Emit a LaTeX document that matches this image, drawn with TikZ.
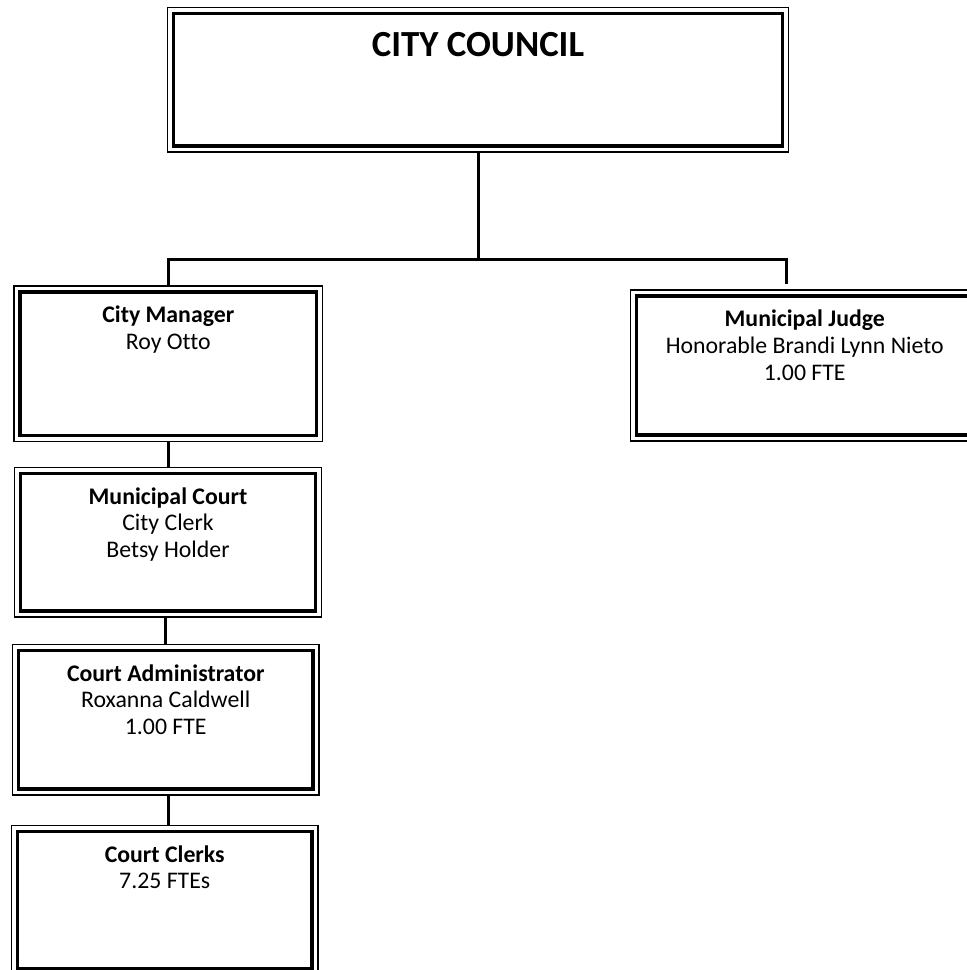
\documentclass[tikz,border=0pt]{standalone}
\usepackage{fontspec}
\setmainfont[Ligatures=NoCommon]{Carlito}
\usetikzlibrary{calc}

\newcommand{\boxfont}{\fontsize{23.8}{26.7}\selectfont}
\newcommand{\titlefont}{\fontsize{36.8}{40}\selectfont\bfseries}
\newcommand{\firstline}{\rule{0pt}{17pt}}

\tikzset{
  % thin outer rule with a heavy rule set just inside it
  orgbox/.style={
    draw, line width=1.4pt, fill=white, inner sep=0pt, outer sep=0pt,
    path picture={
      \draw[line width=3.5pt]
        ([xshift=6pt,yshift=-6pt]path picture bounding box.north west)
        rectangle
        ([xshift=-6pt,yshift=6pt]path picture bounding box.south east);
    }
  },
  boxtext/.style={anchor=north, inner sep=0pt, align=center, font=\boxfont, yshift=-19.5pt},
  conn/.style={line width=3pt, line join=miter}
}

\begin{document}
\begin{tikzpicture}[x=1pt,y=-1pt]
  \useasboundingbox (0,0) rectangle (967,970);
  \clip (0,0) rectangle (967,970);
  \fill[white] (0,0) rectangle (967,970);

  % boxes
  \node[orgbox, minimum width=621pt, minimum height=144.5pt,
        label={[anchor=north, inner sep=0pt, font=\titlefont, yshift=-18.5pt]north:{\rule{0pt}{30pt}CITY COUNCIL}}]
        (council) at (478,79.75) {};

  \node[orgbox, minimum width=308.5pt, minimum height=155.5pt,
        label={[boxtext]north:{\firstline\textbf{City Manager}\\Roy Otto}}]
        (mgr) at (168.25,363.75) {};

  \node[orgbox, minimum width=348.5pt, minimum height=151pt,
        label={[boxtext]north:{\firstline\textbf{Municipal Judge}\\Honorable Brandi Lynn Nieto\\1.00 FTE}}]
        (judge) at (804.75,365.5) {};

  \node[orgbox, minimum width=307pt, minimum height=149.5pt,
        label={[boxtext]north:{\firstline\textbf{Municipal Court}\\City Clerk\\Betsy Holder}}]
        (court) at (168,542.25) {};

  \node[orgbox, minimum width=306.5pt, minimum height=150.5pt,
        label={[boxtext]north:{\firstline\textbf{Court Administrator}\\Roxanna Caldwell\\1.00 FTE}}]
        (admin) at (165.75,719.75) {};

  \node[orgbox, minimum width=306.5pt, minimum height=149.5pt,
        label={[boxtext]north:{\firstline\textbf{Court Clerks}\\7.25 FTEs}}]
        (clerks) at (164.75,900.25) {};

  % connectors
  \coordinate (busL) at (168.25,259);
  \coordinate (busR) at (786,259);
  \coordinate (judgeTop) at (786,284);

  \draw[conn] (council.south) -- (council.south |- busL);
  \draw[conn] (mgr.north) -- (busL) -- (busR) -- (judgeTop);
  \draw[conn] (mgr.south) -- (mgr.south |- court.north);
  \draw[conn] (admin.north |- court.south) -- (admin.north);
  \draw[conn] (168,795) coordinate (caLow) -- (caLow |- clerks.north);
\end{tikzpicture}
\end{document}
